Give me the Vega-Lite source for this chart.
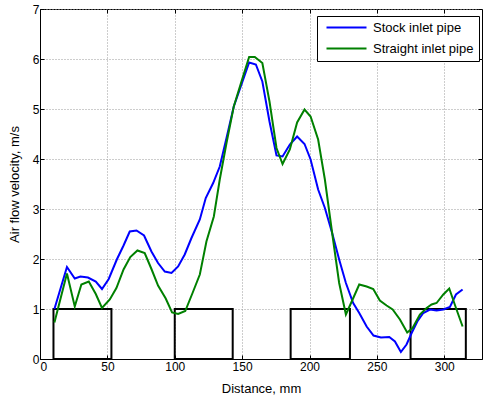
{
  "$schema": "https://vega.github.io/schema/vega-lite/v6.json",
  "width": 442,
  "height": 350,
  "autosize": {"type": "none"},
  "padding": {"left": 40, "top": 9, "right": 1, "bottom": 39},
  "background": "white",
  "config": {
    "font": "Liberation Sans",
    "view": {"stroke": "black", "strokeWidth": 1},
    "axis": {
      "domainColor": "black",
      "tickColor": "black",
      "labelColor": "black",
      "titleColor": "black",
      "labelFont": "Liberation Sans",
      "titleFont": "Liberation Sans",
      "labelFontSize": 12,
      "titleFontSize": 13,
      "titleFontWeight": "normal",
      "gridColor": "#9a9a9a",
      "gridDash": [1, 2],
      "gridOpacity": 1,
      "tickSize": -4
    },
    "legend": {
      "orient": "none",
      "legendX": 277,
      "legendY": 7,
      "strokeColor": "black",
      "fillColor": "white",
      "padding": 5,
      "symbolType": "M-0.4,0H7.6",
      "symbolSize": 100,
      "symbolStrokeWidth": 2,
      "labelOffset": 38,
      "labelFontSize": 13,
      "labelFont": "Liberation Sans",
      "labelColor": "black",
      "rowPadding": 7
    }
  },
  "datasets": {
    "blocks": [
      {"start": 10, "end": 53, "bottom": 0, "top": 1},
      {"start": 100, "end": 143, "bottom": 0, "top": 1},
      {"start": 186, "end": 230, "bottom": 0, "top": 1},
      {"start": 275, "end": 316, "bottom": 0, "top": 1}
    ],
    "curves": [
      {"series": "Stock inlet pipe", "distance": 10.7, "velocity": 1.0},
      {"series": "Stock inlet pipe", "distance": 20, "velocity": 1.84},
      {"series": "Stock inlet pipe", "distance": 25.8, "velocity": 1.61},
      {"series": "Stock inlet pipe", "distance": 30, "velocity": 1.65},
      {"series": "Stock inlet pipe", "distance": 35.6, "velocity": 1.63},
      {"series": "Stock inlet pipe", "distance": 41.4, "velocity": 1.55},
      {"series": "Stock inlet pipe", "distance": 46, "velocity": 1.4},
      {"series": "Stock inlet pipe", "distance": 51, "velocity": 1.6},
      {"series": "Stock inlet pipe", "distance": 57, "velocity": 1.99},
      {"series": "Stock inlet pipe", "distance": 62, "velocity": 2.27},
      {"series": "Stock inlet pipe", "distance": 66.6, "velocity": 2.55},
      {"series": "Stock inlet pipe", "distance": 71.6, "velocity": 2.57},
      {"series": "Stock inlet pipe", "distance": 77.2, "velocity": 2.47},
      {"series": "Stock inlet pipe", "distance": 82.7, "velocity": 2.15},
      {"series": "Stock inlet pipe", "distance": 87.6, "velocity": 1.92},
      {"series": "Stock inlet pipe", "distance": 92.6, "velocity": 1.75},
      {"series": "Stock inlet pipe", "distance": 97.6, "velocity": 1.72},
      {"series": "Stock inlet pipe", "distance": 102.5, "velocity": 1.85},
      {"series": "Stock inlet pipe", "distance": 107.4, "velocity": 2.09},
      {"series": "Stock inlet pipe", "distance": 112.4, "velocity": 2.42},
      {"series": "Stock inlet pipe", "distance": 118.6, "velocity": 2.79},
      {"series": "Stock inlet pipe", "distance": 123, "velocity": 3.22},
      {"series": "Stock inlet pipe", "distance": 128.5, "velocity": 3.52},
      {"series": "Stock inlet pipe", "distance": 133.4, "velocity": 3.85},
      {"series": "Stock inlet pipe", "distance": 138.4, "velocity": 4.42},
      {"series": "Stock inlet pipe", "distance": 143.8, "velocity": 5.05},
      {"series": "Stock inlet pipe", "distance": 149.5, "velocity": 5.49},
      {"series": "Stock inlet pipe", "distance": 155.2, "velocity": 5.93},
      {"series": "Stock inlet pipe", "distance": 160.2, "velocity": 5.89},
      {"series": "Stock inlet pipe", "distance": 165, "velocity": 5.55},
      {"series": "Stock inlet pipe", "distance": 170.3, "velocity": 4.75},
      {"series": "Stock inlet pipe", "distance": 175.5, "velocity": 4.07},
      {"series": "Stock inlet pipe", "distance": 180, "velocity": 4.05},
      {"series": "Stock inlet pipe", "distance": 185.4, "velocity": 4.29},
      {"series": "Stock inlet pipe", "distance": 190.8, "velocity": 4.45},
      {"series": "Stock inlet pipe", "distance": 196.3, "velocity": 4.3},
      {"series": "Stock inlet pipe", "distance": 200.8, "velocity": 3.99},
      {"series": "Stock inlet pipe", "distance": 206.4, "velocity": 3.39},
      {"series": "Stock inlet pipe", "distance": 211.4, "velocity": 3.02},
      {"series": "Stock inlet pipe", "distance": 216.8, "velocity": 2.52},
      {"series": "Stock inlet pipe", "distance": 222, "velocity": 1.99},
      {"series": "Stock inlet pipe", "distance": 227, "velocity": 1.52},
      {"series": "Stock inlet pipe", "distance": 232.4, "velocity": 1.12},
      {"series": "Stock inlet pipe", "distance": 236.9, "velocity": 0.92},
      {"series": "Stock inlet pipe", "distance": 242.4, "velocity": 0.65},
      {"series": "Stock inlet pipe", "distance": 247.5, "velocity": 0.47},
      {"series": "Stock inlet pipe", "distance": 253, "velocity": 0.43},
      {"series": "Stock inlet pipe", "distance": 259.2, "velocity": 0.44},
      {"series": "Stock inlet pipe", "distance": 263.4, "velocity": 0.35},
      {"series": "Stock inlet pipe", "distance": 267.8, "velocity": 0.14},
      {"series": "Stock inlet pipe", "distance": 272, "velocity": 0.29},
      {"series": "Stock inlet pipe", "distance": 275.8, "velocity": 0.52},
      {"series": "Stock inlet pipe", "distance": 280, "velocity": 0.75},
      {"series": "Stock inlet pipe", "distance": 284.4, "velocity": 0.92},
      {"series": "Stock inlet pipe", "distance": 289.4, "velocity": 0.99},
      {"series": "Stock inlet pipe", "distance": 294.3, "velocity": 0.97},
      {"series": "Stock inlet pipe", "distance": 299.3, "velocity": 0.99},
      {"series": "Stock inlet pipe", "distance": 304.2, "velocity": 1.04},
      {"series": "Stock inlet pipe", "distance": 308.7, "velocity": 1.29},
      {"series": "Stock inlet pipe", "distance": 313.6, "velocity": 1.39},
      {"series": "Straight inlet pipe", "distance": 10.7, "velocity": 0.73},
      {"series": "Straight inlet pipe", "distance": 20, "velocity": 1.71},
      {"series": "Straight inlet pipe", "distance": 25.8, "velocity": 1.05},
      {"series": "Straight inlet pipe", "distance": 30.7, "velocity": 1.49},
      {"series": "Straight inlet pipe", "distance": 36.2, "velocity": 1.55},
      {"series": "Straight inlet pipe", "distance": 41.4, "velocity": 1.3},
      {"series": "Straight inlet pipe", "distance": 46, "velocity": 1.02},
      {"series": "Straight inlet pipe", "distance": 51.8, "velocity": 1.19},
      {"series": "Straight inlet pipe", "distance": 56.7, "velocity": 1.42},
      {"series": "Straight inlet pipe", "distance": 62, "velocity": 1.79},
      {"series": "Straight inlet pipe", "distance": 67, "velocity": 2.04},
      {"series": "Straight inlet pipe", "distance": 72.3, "velocity": 2.17},
      {"series": "Straight inlet pipe", "distance": 77.7, "velocity": 2.12},
      {"series": "Straight inlet pipe", "distance": 82.7, "velocity": 1.8},
      {"series": "Straight inlet pipe", "distance": 87.6, "velocity": 1.47},
      {"series": "Straight inlet pipe", "distance": 93.3, "velocity": 1.21},
      {"series": "Straight inlet pipe", "distance": 98, "velocity": 0.93},
      {"series": "Straight inlet pipe", "distance": 102.5, "velocity": 0.9},
      {"series": "Straight inlet pipe", "distance": 107.8, "velocity": 0.96},
      {"series": "Straight inlet pipe", "distance": 113.2, "velocity": 1.32},
      {"series": "Straight inlet pipe", "distance": 118.6, "velocity": 1.69},
      {"series": "Straight inlet pipe", "distance": 123.5, "velocity": 2.35},
      {"series": "Straight inlet pipe", "distance": 129, "velocity": 2.85},
      {"series": "Straight inlet pipe", "distance": 133.4, "velocity": 3.59},
      {"series": "Straight inlet pipe", "distance": 138.4, "velocity": 4.32},
      {"series": "Straight inlet pipe", "distance": 143.8, "velocity": 5.05},
      {"series": "Straight inlet pipe", "distance": 149.5, "velocity": 5.55},
      {"series": "Straight inlet pipe", "distance": 155.2, "velocity": 6.04},
      {"series": "Straight inlet pipe", "distance": 159.4, "velocity": 6.04},
      {"series": "Straight inlet pipe", "distance": 165, "velocity": 5.92},
      {"series": "Straight inlet pipe", "distance": 170.3, "velocity": 5.15},
      {"series": "Straight inlet pipe", "distance": 175.5, "velocity": 4.22},
      {"series": "Straight inlet pipe", "distance": 180, "velocity": 3.9},
      {"series": "Straight inlet pipe", "distance": 185.4, "velocity": 4.19},
      {"series": "Straight inlet pipe", "distance": 190.8, "velocity": 4.73},
      {"series": "Straight inlet pipe", "distance": 196.3, "velocity": 4.99},
      {"series": "Straight inlet pipe", "distance": 200.8, "velocity": 4.85},
      {"series": "Straight inlet pipe", "distance": 206.4, "velocity": 4.39},
      {"series": "Straight inlet pipe", "distance": 211.4, "velocity": 3.59},
      {"series": "Straight inlet pipe", "distance": 216.8, "velocity": 2.52},
      {"series": "Straight inlet pipe", "distance": 222, "velocity": 1.52},
      {"series": "Straight inlet pipe", "distance": 227, "velocity": 0.89},
      {"series": "Straight inlet pipe", "distance": 232, "velocity": 1.19},
      {"series": "Straight inlet pipe", "distance": 236.9, "velocity": 1.49},
      {"series": "Straight inlet pipe", "distance": 242.4, "velocity": 1.45},
      {"series": "Straight inlet pipe", "distance": 247.3, "velocity": 1.4},
      {"series": "Straight inlet pipe", "distance": 252.2, "velocity": 1.17},
      {"series": "Straight inlet pipe", "distance": 257.2, "velocity": 1.07},
      {"series": "Straight inlet pipe", "distance": 261.7, "velocity": 0.99},
      {"series": "Straight inlet pipe", "distance": 267.1, "velocity": 0.79},
      {"series": "Straight inlet pipe", "distance": 272.5, "velocity": 0.53},
      {"series": "Straight inlet pipe", "distance": 276.5, "velocity": 0.62},
      {"series": "Straight inlet pipe", "distance": 281.9, "velocity": 0.89},
      {"series": "Straight inlet pipe", "distance": 286.9, "velocity": 1.02},
      {"series": "Straight inlet pipe", "distance": 290.6, "velocity": 1.09},
      {"series": "Straight inlet pipe", "distance": 294.3, "velocity": 1.12},
      {"series": "Straight inlet pipe", "distance": 299.3, "velocity": 1.29},
      {"series": "Straight inlet pipe", "distance": 303.7, "velocity": 1.41},
      {"series": "Straight inlet pipe", "distance": 308.7, "velocity": 1.02},
      {"series": "Straight inlet pipe", "distance": 313.6, "velocity": 0.65}
    ]
  },
  "layer": [
    {
      "data": {"name": "curves"},
      "mark": {"type": "point", "opacity": 0},
      "encoding": {
        "x": {
          "field": "distance", "type": "quantitative",
          "scale": {"domain": [0, 328], "nice": false, "zero": false},
          "axis": {"orient": "top", "labels": false, "title": null, "grid": false, "values": [0, 50, 100, 150, 200, 250, 300], "domain": false}
        },
        "y": {
          "field": "velocity", "type": "quantitative",
          "scale": {"domain": [0, 7], "nice": false},
          "axis": {"orient": "right", "labels": false, "title": null, "grid": false, "values": [0, 1, 2, 3, 4, 5, 6, 7], "domain": false}
        }
      }
    },
    {
      "data": {"name": "blocks"},
      "mark": {"type": "rect", "fill": "transparent", "stroke": "black", "strokeWidth": 2},
      "encoding": {
        "x": {"field": "start", "type": "quantitative", "axis": null},
        "x2": {"field": "end"},
        "y": {"field": "bottom", "type": "quantitative", "axis": null},
        "y2": {"field": "top"}
      }
    },
    {
      "data": {"name": "curves"},
      "mark": {"type": "line", "strokeWidth": 2},
      "encoding": {
        "x": {
          "field": "distance", "type": "quantitative",
          "axis": {"title": "Distance, mm", "values": [0, 50, 100, 150, 200, 250, 300], "grid": true, "labelPadding": 6, "titlePadding": 10}
        },
        "y": {
          "field": "velocity", "type": "quantitative",
          "axis": {"title": "Air flow velocity, m/s", "values": [0, 1, 2, 3, 4, 5, 6, 7], "grid": true, "labelPadding": 5, "titlePadding": 11}
        },
        "color": {
          "field": "series", "type": "nominal",
          "scale": {"domain": ["Stock inlet pipe", "Straight inlet pipe"], "range": ["#0000ff", "#008000"]},
          "legend": {"title": null}
        }
      }
    }
  ],
  "resolve": {"axis": {"x": "independent", "y": "independent"}}
}
